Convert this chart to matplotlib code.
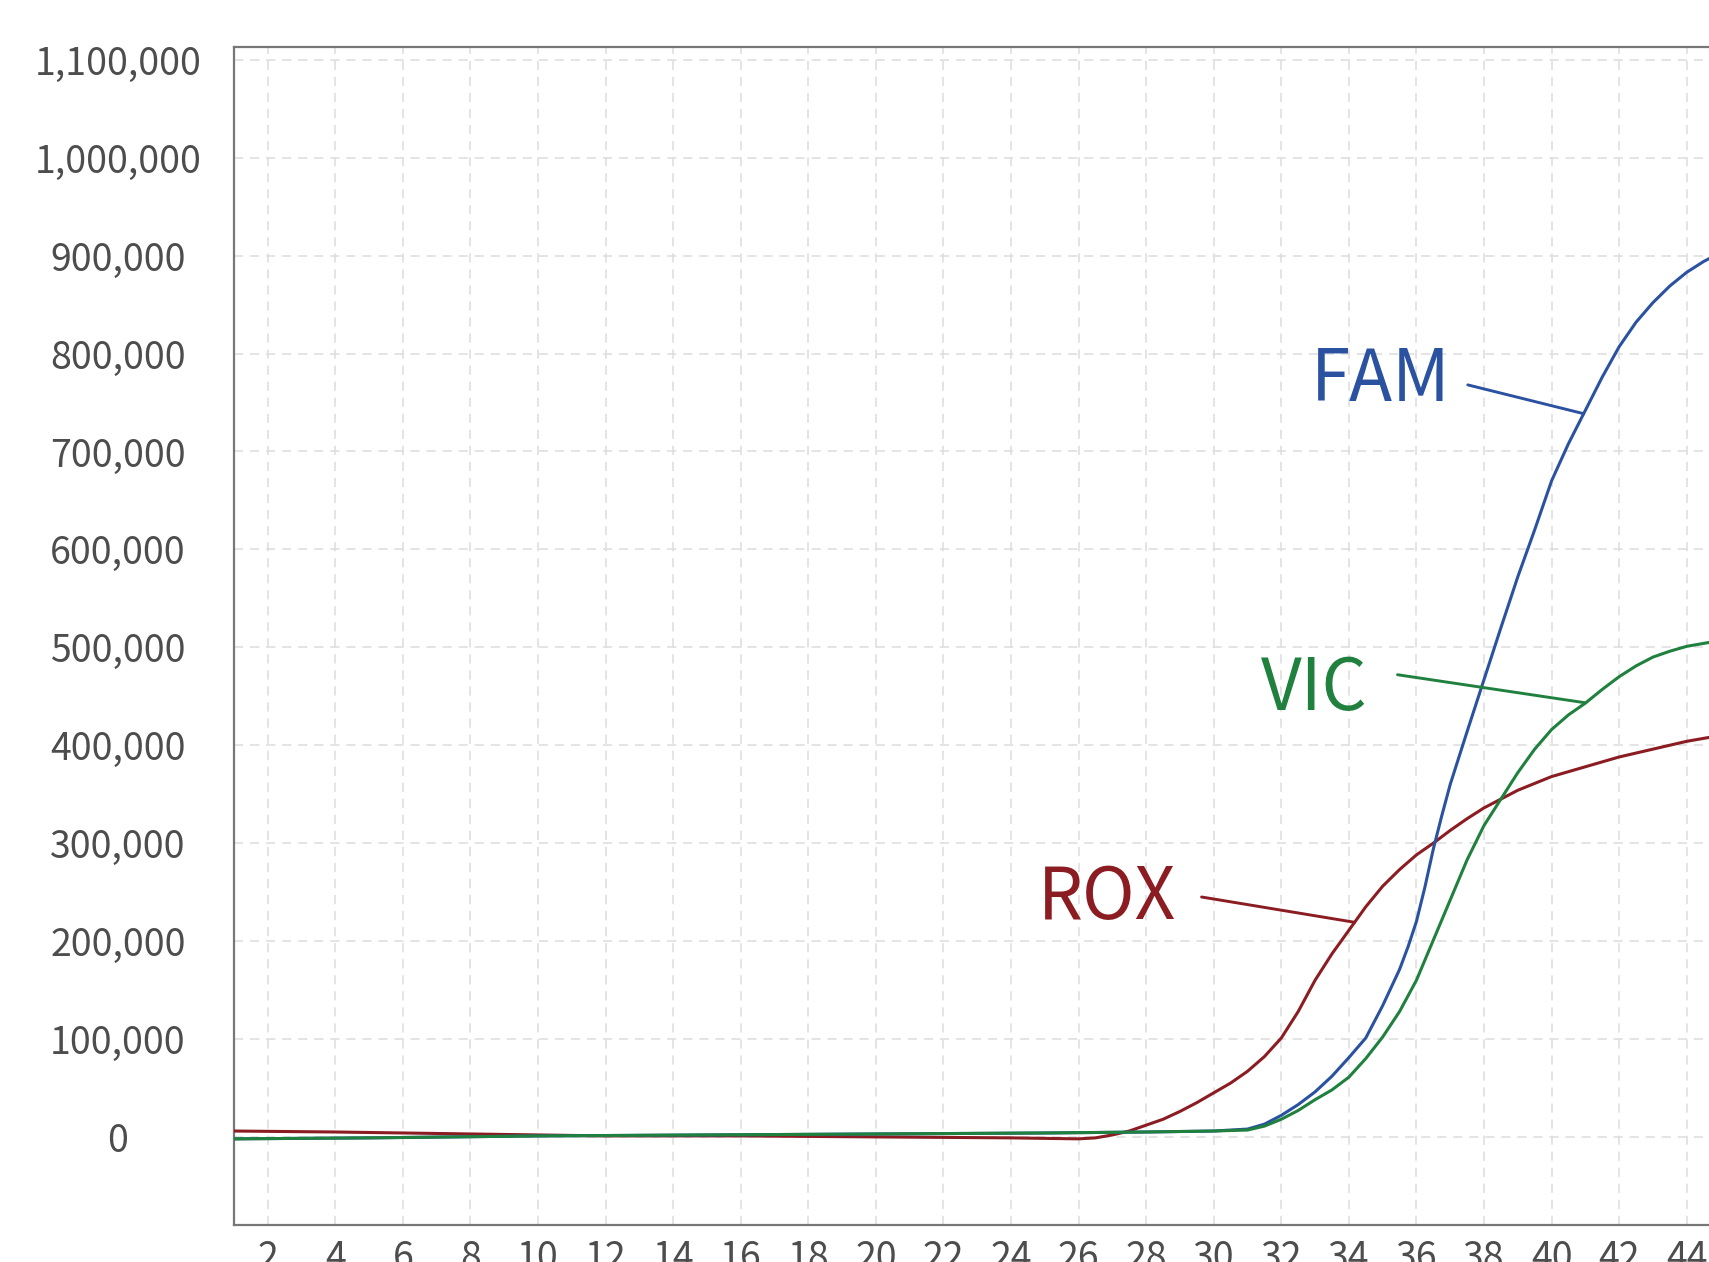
import matplotlib.pyplot as plt
import numpy as np
from matplotlib.ticker import FuncFormatter

plt.rcParams['font.family'] = ['Noto Sans CJK KR', 'DejaVu Sans']

# cycle / fluorescence readings (y in thousands)
fam_x = [1, 5, 10, 15, 20, 25, 28, 30, 31, 31.5, 32, 32.5, 33, 33.5, 34, 34.5, 35, 35.5,
         35.75, 36, 36.25, 36.5, 36.75, 37, 37.5, 38, 38.5, 39, 39.5, 40, 40.5, 41, 41.5,
         42, 42.5, 43, 43.5, 44, 44.5, 45]
fam_y = [-2, -1, 1, 2, 3, 4, 5, 6, 8, 13, 22, 33, 46, 62, 81, 101, 134, 171,
         194, 220, 255, 294, 328, 360, 414, 467, 520, 572, 620, 670, 708, 742, 776,
         807, 832, 852, 869, 883, 894, 903]

vic_x = [1, 5, 10, 15, 20, 25, 28, 30, 31, 31.5, 32, 32.5, 33, 33.5, 34, 34.5, 35, 35.5,
         36, 36.5, 37, 37.5, 38, 38.5, 39, 39.5, 40, 40.5, 41, 41.5, 42, 42.5, 43, 43.5,
         44, 44.5, 45]
vic_y = [-2, -1, 1, 2, 3, 4, 5, 6, 7, 11, 18, 27, 38, 48, 61, 80, 102, 128,
         160, 201, 242, 283, 318, 345, 372, 396, 416, 431, 443, 457, 470, 481, 490, 496,
         501, 504, 507]

rox_x = [1, 4, 6, 8, 10, 12, 16, 20, 24, 26, 26.5, 27, 27.5, 28, 28.5, 29, 29.5, 30, 30.5,
         31, 31.5, 32, 32.5, 33, 33.5, 34, 34.5, 35, 35.5, 36, 36.5, 37, 37.5, 38, 38.5,
         39, 39.5, 40, 41, 42, 43, 44, 45]
rox_y = [6, 5, 4, 3, 2, 1, 1, 0, -1, -2, -1, 2, 6, 12, 18, 26, 35, 45, 55,
         67, 82, 101, 128, 160, 187, 211, 235, 256, 273, 288, 300, 313, 325, 336, 345,
         354, 361, 368, 378, 388, 396, 404, 410]

series = [
    ('ROX', rox_x, rox_y, '#8a1c22', (24.80, 223), (29.64, 245), 34.17),
    ('FAM', fam_x, fam_y, '#2a52a0', (32.87, 752), (37.52, 768), 40.95),
    ('VIC', vic_x, vic_y, '#20803e', (31.41, 436), (35.44, 472), 41.01),
]

fig = plt.figure(figsize=(17.09, 12.62), dpi=100)
ax = fig.add_axes([0.1369, 0.0293, 0.8896, 0.9334])

for name, xs, ys, color, text_pos, lead_start, lead_x in series:
    yv = np.array(ys) * 1000
    ax.plot(xs, yv, color=color, lw=2.2, zorder=3, solid_joinstyle='round')

for name, xs, ys, color, text_pos, lead_start, lead_x in series:
    yv = np.array(ys) * 1000
    target = (lead_x, np.interp(lead_x, xs, yv))
    ax.annotate('', xy=target, xytext=(lead_start[0], lead_start[1] * 1000),
                arrowprops=dict(arrowstyle='-', color=color, lw=2.1,
                                shrinkA=0, shrinkB=0), zorder=4)
    ax.text(text_pos[0], text_pos[1] * 1000, name, color=color, fontsize=51,
            ha='left', va='baseline', zorder=5)

ax.set_xlim(1, 46)
ax.set_ylim(-90000, 1113000)
ax.set_xticks(np.arange(2, 47, 2))
ax.set_yticks(np.arange(0, 1100001, 100000))
ax.yaxis.set_major_formatter(FuncFormatter(lambda v, p: f'{v:,.0f}'))

ax.grid(True, color='#dddddd', lw=1.1, linestyle=(0, (6, 4.5)), zorder=0)
ax.tick_params(length=0, labelsize=27, labelcolor='#4d4d4d')
# y labels are centred in the left margin
ax.tick_params(axis='y', pad=83.5)
for lab in ax.get_yticklabels():
    lab.set_horizontalalignment('center')
ax.tick_params(axis='x', pad=10)
for side in ['left', 'bottom', 'top']:
    ax.spines[side].set_color('#777777')
    ax.spines[side].set_linewidth(1.6)
ax.spines['right'].set_visible(False)

fig.savefig('out.png', dpi=100)
